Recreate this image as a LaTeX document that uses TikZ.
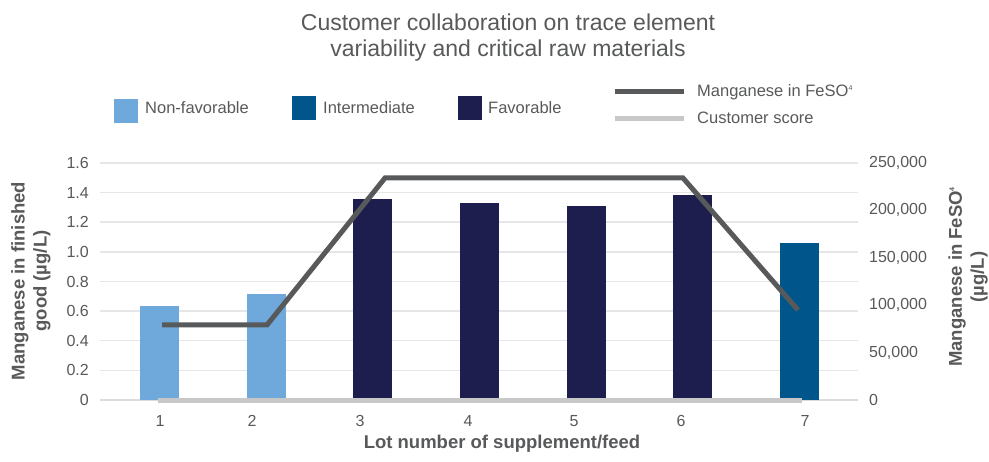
\documentclass[tikz,border=0pt]{standalone}
\usepackage{fontspec}
\setmainfont{Liberation Sans}
\usepackage{xcolor}
\usepackage{tikz}
\definecolor{txtgray}{HTML}{58595B}
\definecolor{nonfav}{HTML}{6FA9DC}
\definecolor{interm}{HTML}{00558A}
\definecolor{fav}{HTML}{1D1E4E}
\definecolor{gridgray}{HTML}{E6E6E6}
\definecolor{zerogray}{HTML}{DCDCDC}
\definecolor{scoregray}{HTML}{C8C8C8}
\definecolor{mngray}{HTML}{58595B}
\newcommand{\supfour}{\raisebox{0.75ex}{\fontsize{7}{8}\selectfont 4}}
\tikzset{
ticklabel/.style={
    text=txtgray, inner sep=0pt,
    font=\fontsize{16}{18}\selectfont
  },
axistitle/.style={
    text=txtgray, inner sep=0pt, align=center,
    font=\fontsize{18.5}{22}\selectfont\bfseries
  },
legendbox/.style={
    fill=#1, minimum size=24pt, inner sep=0pt
  }
}

\begin{document}
\begin{tikzpicture}[
 x=1pt, y=-1pt,
 titletext/.style={text=txtgray, inner sep=0pt, anchor=base,
        font=\fontsize{23}{25}\selectfont},
 legendtext/.style={ticklabel, anchor=base west, font=\fontsize{16.5}{18}\selectfont},
 gridline/.style={draw=gridgray, line width=1.5pt},
 mnline/.style={draw=mngray, line width=5pt},
 scoreline/.style={draw=scoregray, line width=5pt}
  ]
\useasboundingbox (0,0) rectangle (989,462);

\node[titletext] (title1) at (508,31) {Customer collaboration on trace element};
\node[titletext] (title2) at (508,57) {variability and critical raw materials};

\node[legendbox=nonfav] (bnonfav) at (126,111) {};
\node[legendtext] (lnonfav) at (145,114) {Non-favorable};
\node[legendbox=interm] (binterm) at (304,108) {};
\node[legendtext] (linterm) at (323,114) {Intermediate};
\node[legendbox=fav] (bfav) at (470,108) {};
\node[legendtext] (lfav) at (488,114) {Favorable};

\coordinate (lm1) at (615,92);
\coordinate (lm2) at (684,92);
\coordinate (ls1) at (615,119);
\coordinate (ls2) at (684,119);
\draw[mnline] (lm1) -- (lm2);
\draw[scoreline] (ls1) -- (ls2);
\node[legendtext] (lmn) at (697,97) {Manganese in FeSO\supfour};
\node[legendtext] (lscore) at (697,124) {Customer score};

\foreach \k/\lab in {1/0.2,2/0.4,3/0.6,4/0.8,5/1.0,6/1.2,7/1.4,8/1.6}
  \draw[gridline] (100,{400-\k*29.625}) -- (858,{400-\k*29.625});
\draw[draw=zerogray, line width=2pt] (100,400) -- (858,400);

\foreach \k/\lab in {0/0,1/0.2,2/0.4,3/0.6,4/0.8,5/1.0,6/1.2,7/1.4,8/1.6}
  \node[ticklabel, anchor=east] (yl\k) at (89,{400-\k*29.625}) {\lab};
\foreach \k/\lab in {0/0,1/{50,000},2/{100,000},3/{150,000},4/{200,000},5/{250,000}}
  \node[ticklabel, anchor=west] (yr\k) at (869,{400-\k*47.4}) {\lab};

\foreach \x/\h/\c in {159.5/0.635/nonfav,266.5/0.716/nonfav,372.5/1.357/fav,
    479.5/1.33/fav,586.5/1.31/fav,692.5/1.384/fav,799.5/1.06/interm}
  \fill[\c] ({\x-19.5},400) rectangle ({\x+19.5},{400-\h*148.125});

\coordinate (s1) at (158,401);
\coordinate (s2) at (802,401);
\draw[scoreline] (s1) -- (s2);

\coordinate (m1) at (162,325);
\coordinate (m2) at (267,325);
\coordinate (m3) at (385,178);
\coordinate (m4) at (683,178);
\coordinate (m5) at (798,310);
\draw[mnline] (m1) -- (m2) -- (m3) -- (m4) -- (m5);

\foreach \x/\n in {160/1,252/2,360/3,468/4,574/5,681/6,805/7}
  \node[ticklabel, anchor=base] (lot\n) at (\x,427) {\n};

\node[axistitle, anchor=base] (xtitle) at (502,449) {Lot number of supplement/feed};
\node[axistitle, rotate=90] (ytitle) at (31,281) {Manganese in finished\\good (µg/L)};
\node[axistitle, rotate=90] (y2title) at (968,277) {Manganese in FeSO\supfour\\(µg/L)};
\end{tikzpicture}
\end{document}
